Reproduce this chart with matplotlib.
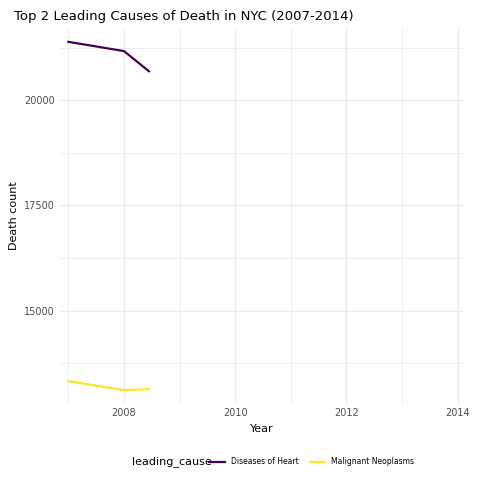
import matplotlib.pyplot as plt
import numpy as np

years_heart = [2007, 2008, 2008.45]
heart = [21390, 21170, 20690]
years_cancer = [2007, 2008, 2008.45]
cancer = [13325, 13110, 13135]

fig = plt.figure(figsize=(4.8, 4.8), dpi=100)
ax = fig.add_axes([0.125, 0.16, 0.84, 0.78])

for x in np.arange(2007, 2015, 1):
    ax.axvline(x, color='#ebebeb', lw=0.6 if x % 2 else 1.0, zorder=0)
for y in np.arange(12500, 21751, 1250):
    ax.axhline(y, color='#ebebeb', lw=1.0 if y % 2500 == 0 else 0.6, zorder=0)

ax.plot(years_heart, heart, color='#440154', lw=1.6, label='Diseases of Heart')
ax.plot(years_cancer, cancer, color='#fde725', lw=1.6, label='Malignant Neoplasms')

ax.set_xlim(2006.85, 2014.1)
ax.set_ylim(12800, 21700)
ax.set_xticks([2008, 2010, 2012, 2014])
ax.set_yticks([15000, 17500, 20000])
for s in ax.spines.values():
    s.set_visible(False)
ax.tick_params(length=0, labelsize=7, colors='#4d4d4d')
ax.set_xlabel('Year', fontsize=8)
ax.set_ylabel('Death count', fontsize=8)
ax.set_title('Top 2 Leading Causes of Death in NYC (2007-2014)', fontsize=9.5, loc='left', x=-0.115)

fig.text(0.275, 0.038, 'leading_cause', fontsize=8, va='center')
fig.legend(loc='center left', bbox_to_anchor=(0.43, 0.038), ncol=2, frameon=False,
           fontsize=5.5, handlelength=2, borderaxespad=0, columnspacing=1.5)
fig.savefig('out.png')
